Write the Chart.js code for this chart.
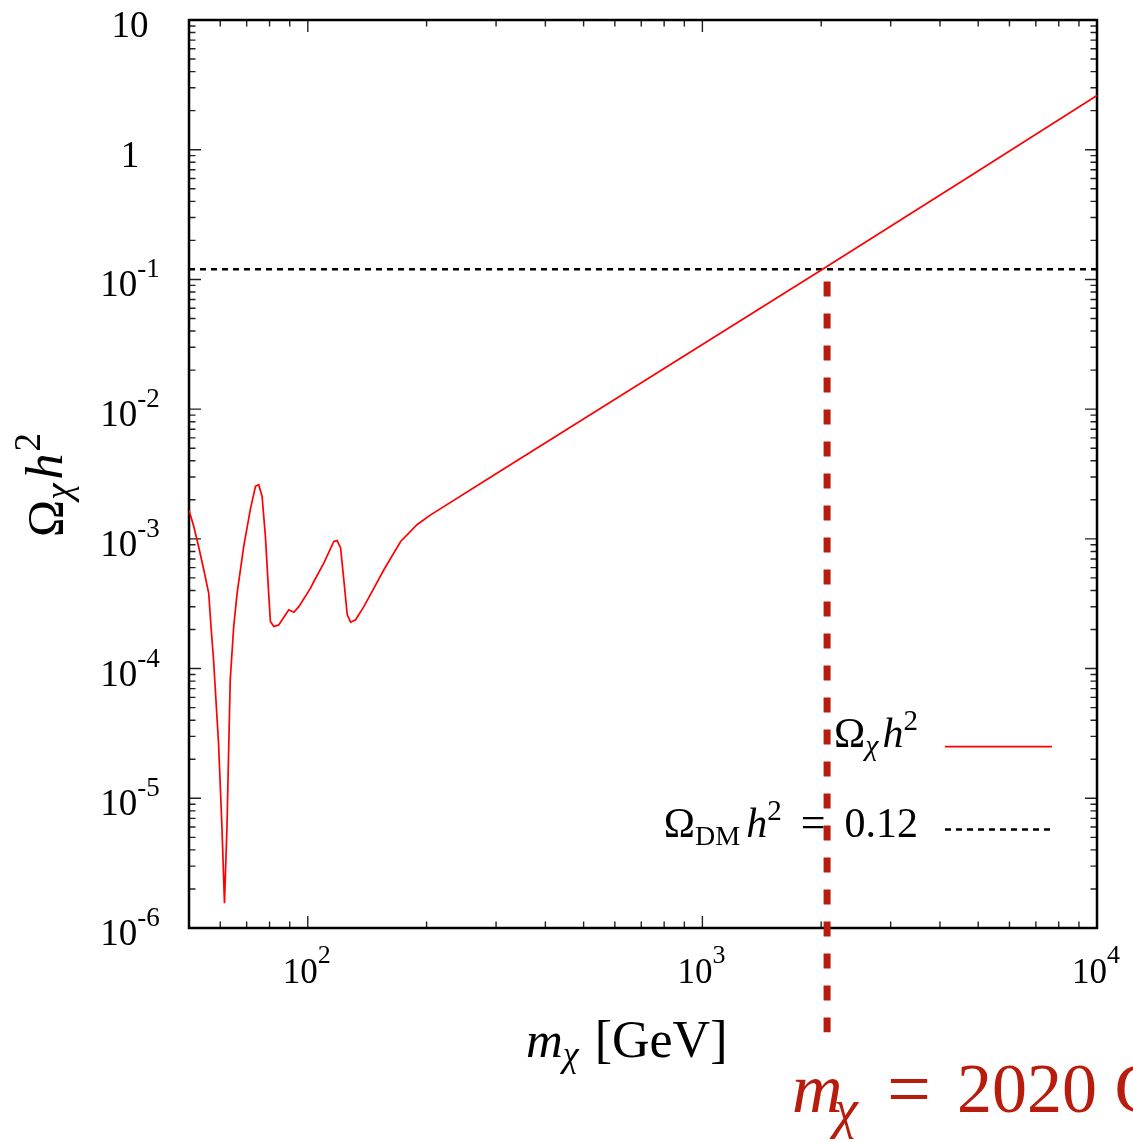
<!DOCTYPE html>
<html>
<head>
<meta charset="utf-8">
<script src="https://cdn.jsdelivr.net/npm/chart.js@4/dist/chart.umd.min.js"></script>
<style>
html, body { margin: 0; padding: 0; background: #fff; }
#wrap { width: 1133px; height: 1141px; position: relative; }
</style>
</head>
<body>
<div id="wrap"><canvas id="relicChart"></canvas></div>
<script>
// relic density vs DM mass
const massGeV = [50, 51.4, 52.9, 54.5, 56.1, 56.85, 57.7, 59.4, 60.6, 61.5, 62.4, 63.6, 64.9, 66.2,
    68.8, 71.5, 73.7, 75.1, 76.6, 78.1, 79.6, 80.4, 82.0, 84.4, 89.5, 92.2, 94.9, 101.6, 103.6,
    109.8, 116.4, 118.7, 121.1, 123.4, 125.9, 128.4, 132.2, 138.7, 147.1, 155.9, 171.9, 189.4,
    204.8, 300, 2016, 4761, 10000];
const omegaH2 = [1.66e-3, 1.25e-3, 8.7e-4, 5.78e-4, 3.8e-4, 2.11e-4, 1.17e-4, 2.67e-5, 6.0e-6,
    1.55e-6, 6.0e-6, 8.2e-5, 2.1e-4, 3.8e-4, 8.7e-4, 1.68e-3, 2.54e-3, 2.61e-3, 2.12e-3, 1.04e-3,
    3.8e-4, 2.31e-4, 2.11e-4, 2.17e-4, 2.84e-4, 2.72e-4, 3.0e-4, 4.17e-4, 4.69e-4, 6.5e-4, 9.55e-4,
    9.7e-4, 8.5e-4, 4.83e-4, 2.6e-4, 2.28e-4, 2.38e-4, 3.0e-4, 4.17e-4, 5.78e-4, 9.55e-4, 1.29e-3,
    1.53e-3, 3.18e-3, 0.12, 0.625, 2.62];

// observed relic density line
const relicMass = [50, 10000];
const relicValue = [0.12, 0.12];

// red marker at the crossing (drawn over the axis)
const markerMass = [2070, 2070];
const markerValue = [0.0964, 1.57e-7];
const markerText = '2020 GeV';

const xTickValues = [100, 1000, 10000];
const xTickExp = ['2', '3', '4'];
const yTickValues = [1e-6, 1e-5, 1e-4, 1e-3, 1e-2, 1e-1, 1, 10];
const yTickBase = ['10', '10', '10', '10', '10', '10', '1', '10'];
const yTickExp = ['-6', '-5', '-4', '-3', '-2', '-1', '', ''];

const SERIF = '"Liberation Serif", "DejaVu Serif", serif';
const RED = '#ff0000';
const DARKRED = '#b71c0c';

function f(size, italic) {
    return (italic ? 'italic ' : '') + size + 'px ' + SERIF;
}

function richWidth(ctx, parts) {
    let w = 0;
    parts.forEach(p => {
        if (p.gap) { w += p.gap; return; }
        ctx.font = p.font;
        w += ctx.measureText(p.t).width;
    });
    return w;
}

function drawRich(ctx, parts, x, y) {
    parts.forEach(p => {
        if (p.gap) { x += p.gap; return; }
        ctx.font = p.font;
        ctx.fillText(p.t, x, y + (p.dy || 0));
        x += ctx.measureText(p.t).width;
    });
}

function isDecade(v) {
    const l = Math.log10(v);
    return Math.abs(l - Math.round(l)) < 1e-9;
}

function logTicks(min, max) {
    const out = [];
    for (let d = Math.floor(Math.log10(min)); d <= Math.ceil(Math.log10(max)); d++) {
        for (let k = 1; k <= 9; k++) {
            const v = k * Math.pow(10, d);
            if (v >= min * 0.9999 && v <= max * 1.0001) out.push(v);
        }
    }
    return out;
}

const framePlugin = {
    id: 'frame',
    beforeDraw(chart) {
        const c = chart.ctx;
        c.save();
        c.fillStyle = '#fff';
        c.fillRect(0, 0, chart.width, chart.height);
        c.restore();
    },
    beforeDatasetsDraw(chart) {
        const c = chart.ctx;
        const a = chart.chartArea;
        const xs = chart.scales.x;
        const ys = chart.scales.y;
        c.save();

        // inward ticks on all four sides
        c.strokeStyle = '#222';
        c.lineWidth = 1.4;
        c.beginPath();
        logTicks(xs.min, xs.max).forEach(v => {
            const px = xs.getPixelForValue(v);
            const len = isDecade(v) ? 12 : 6.5;
            c.moveTo(px, a.bottom); c.lineTo(px, a.bottom - len);
            c.moveTo(px, a.top); c.lineTo(px, a.top + len);
        });
        logTicks(ys.min, ys.max).forEach(v => {
            const py = ys.getPixelForValue(v);
            const len = isDecade(v) ? 12 : 6.5;
            c.moveTo(a.left, py); c.lineTo(a.left + len, py);
            c.moveTo(a.right, py); c.lineTo(a.right - len, py);
        });
        c.stroke();

        c.strokeStyle = '#000';
        c.lineWidth = 2.5;
        c.strokeRect(a.left, a.top, a.right - a.left, a.bottom - a.top);

        c.fillStyle = '#000';
        c.textBaseline = 'alphabetic';

        // y tick labels
        yTickValues.forEach((v, i) => {
            const py = ys.getPixelForValue(v);
            const parts = [{t: yTickBase[i], font: f(37)}];
            if (yTickExp[i]) parts.push({t: yTickExp[i], font: f(27), dy: -19});
            const w = richWidth(c, parts);
            drawRich(c, parts, 130 - w / 2, py + 17);
        });

        // x tick labels
        xTickValues.forEach((v, i) => {
            const px = xs.getPixelForValue(v);
            const parts = [{t: '10', font: f(35)}, {t: xTickExp[i], font: f(26), dy: -20}];
            const w = richWidth(c, parts);
            drawRich(c, parts, px - w / 2 - 1, 983);
        });

        // x title
        drawRich(c, [
            {t: 'm', font: f(51, true)},
            {t: 'χ', font: f(36, true), dy: 9},
            {gap: 16},
            {t: '[GeV]', font: f(52)}
        ], 526, 1057);

        // y title
        c.save();
        c.translate(62, 537);
        c.rotate(-Math.PI / 2);
        drawRich(c, [
            {t: 'Ω', font: f(50)},
            {t: 'χ', font: f(37, true), dy: 9},
            {gap: 4},
            {t: 'h', font: f(52, true)},
            {gap: 2},
            {t: '2', font: f(37), dy: -22}
        ], 0, 0);
        c.restore();

        // legend
        const ds = chart.data.datasets;
        const rows = [
            {parts: [{t: 'Ω', font: f(42)}, {t: 'χ', font: f(30, true), dy: 8}, {gap: 4},
                     {t: 'h', font: f(42, true)}, {t: '2', font: f(29), dy: -17}],
             base: 747, lineY: 746.7, set: ds[0]},
            {parts: [{t: 'Ω', font: f(42)}, {t: 'DM', font: f(28), dy: 8}, {gap: 6},
                     {t: 'h', font: f(42, true)}, {t: '2', font: f(29), dy: -17}, {gap: 19},
                     {t: '=', font: f(44)}, {gap: 19}, {t: '0.12', font: f(42)}],
             base: 837, lineY: 829.5, set: ds[1]}
        ];
        rows.forEach(r => {
            const w = richWidth(c, r.parts);
            c.fillStyle = '#000';
            drawRich(c, r.parts, 918 - w, r.base);
            c.strokeStyle = r.set.borderColor;
            c.lineWidth = r.set.borderWidth;
            c.setLineDash(r.set.borderDash || []);
            c.beginPath();
            c.moveTo(945, r.lineY);
            c.lineTo(1052, r.lineY);
            c.stroke();
            c.setLineDash([]);
        });
        c.restore();
    },
    afterDraw(chart) {
        const c = chart.ctx;
        c.save();
        c.fillStyle = DARKRED;
        c.textBaseline = 'alphabetic';
        c.font = f(70, true);
        c.fillText('m', 792, 1112);
        c.font = f(54, true);
        c.fillText('χ', 834, 1127);
        c.font = f(78);
        c.fillText('=', 887, 1115);
        c.font = f(70);
        c.fillText(markerText, 957, 1112);
        c.restore();
    }
};

const ctx = document.getElementById('relicChart').getContext('2d');
new Chart(ctx, {
    type: 'line',
    data: {
        datasets: [{
            label: 'Ωχh²',
            data: massGeV.map((m, i) => ({x: m, y: omegaH2[i]})),
            borderColor: RED,
            borderWidth: 1.7,
            pointRadius: 0,
            tension: 0,
            order: 2
        }, {
            label: 'ΩDMh² = 0.12',
            data: relicMass.map((m, i) => ({x: m, y: relicValue[i]})),
            borderColor: '#000',
            borderWidth: 2.5,
            borderDash: [6, 5],
            pointRadius: 0,
            order: 3
        }, {
            label: 'marker',
            data: markerMass.map((m, i) => ({x: m, y: markerValue[i]})),
            borderColor: DARKRED,
            borderWidth: 7,
            borderDash: [15, 17],
            pointRadius: 0,
            clip: false,
            order: 1
        }]
    },
    options: {
        responsive: true,
        maintainAspectRatio: false,
        animation: false,
        events: [],
        layout: {padding: {left: 189, right: 36, top: 20, bottom: 213}},
        plugins: {legend: {display: false}, tooltip: {enabled: false}},
        scales: {
            x: {
                type: 'logarithmic', min: 50, max: 10000,
                grid: {display: false, drawTicks: false},
                border: {display: false},
                ticks: {display: false}
            },
            y: {
                type: 'logarithmic', min: 1e-6, max: 10,
                grid: {display: false, drawTicks: false},
                border: {display: false},
                ticks: {display: false}
            }
        }
    },
    plugins: [framePlugin]
});
</script>
</body>
</html>
